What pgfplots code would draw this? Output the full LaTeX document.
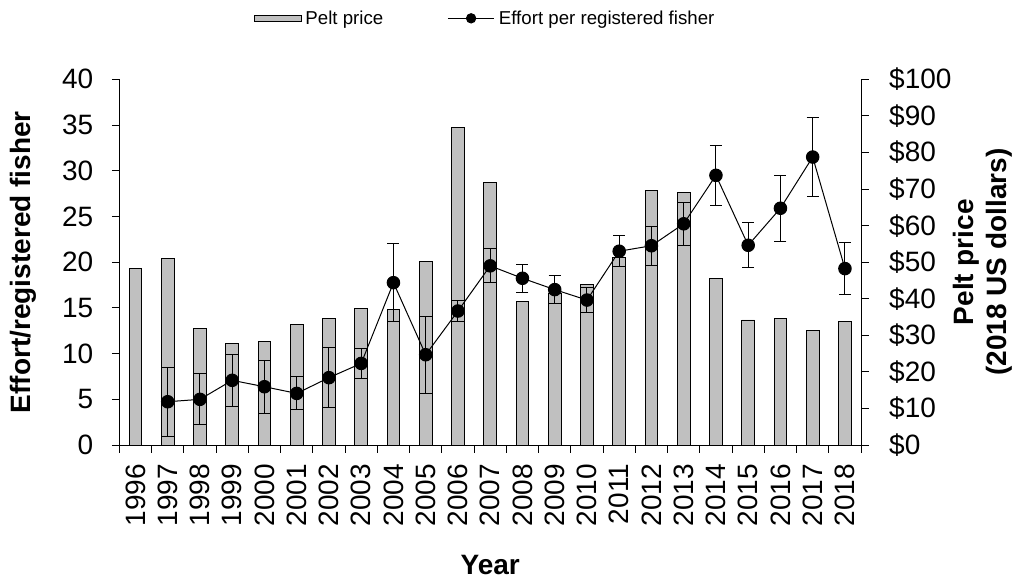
\documentclass[border=0pt]{standalone}
\usepackage{pgfplots}
\pgfplotsset{compat=1.18}
\usepackage{pgfplotstable}
\usepackage{fontspec}
\setmainfont{Liberation Sans}

\definecolor{barfill}{HTML}{C0C0C0}

% Pelt price per year (2018 US dollars)
\pgfplotstableread{
year price
1996 48.3
1997 51.0
1998 31.9
1999 27.9
2000 28.3
2001 33.0
2002 34.6
2003 37.4
2004 37.0
2005 50.2
2006 86.8
2007 71.8
2008 39.3
2009 41.5
2010 44.0
2011 51.4
2012 69.5
2013 69.1
2014 45.6
2015 34.2
2016 34.6
2017 31.4
2018 33.7
}\pricetable

% Effort per registered fisher with its error
\pgfplotstableread{
year effort err
1997 4.74 3.75
1998 5.00 2.80
1999 7.08 2.87
2000 6.38 2.90
2001 5.65 1.80
2002 7.37 3.30
2003 8.93 1.65
2004 17.76 4.30
2005 9.88 4.20
2006 14.66 1.10
2007 19.60 1.87
2008 18.24 1.55
2009 17.00 1.50
2010 15.86 1.40
2011 21.20 1.70
2012 21.80 2.15
2013 24.20 2.35
2014 29.50 3.25
2015 21.85 2.45
2016 25.90 3.60
2017 31.50 4.30
2018 19.30 2.80
}\efforttable

\pgfplotsset{
  common/.style={
    at={(0,0)}, anchor=south west,
    scale only axis, width=556.3pt, height=274.3pt,
    xmin=1995.5, xmax=2018.5,
    tick align=outside, major tick length=5.6pt,
    axis line style={-, line width=0.75pt},
    tick style={line width=0.75pt, black},
    /pgf/number format/assume math mode=true,
    ticklabel style={font=\fontsize{21}{25}\selectfont},
    label style={font=\fontsize{21}{24.75}\selectfont\bfseries},
  },
}

\begin{document}
\begin{tikzpicture}
\useasboundingbox (-89.5pt,-101.25pt) rectangle (672.5pt,333.8pt);

% bars: pelt price on the right-hand axis
\begin{axis}[
  common,
  ymin=0, ymax=100,
  axis y line*=right, axis x line*=bottom,
  ytick={0,10,...,100},
  yticklabels={\$0,\$10,\$20,\$30,\$40,\$50,\$60,\$70,\$80,\$90,\$100},
  yticklabel shift=12pt,
  xtick={1995.5,1996.5,1997.5,1998.5,1999.5,2000.5,2001.5,2002.5,2003.5,2004.5,2005.5,2006.5,2007.5,2008.5,2009.5,2010.5,2011.5,2012.5,2013.5,2014.5,2015.5,2016.5,2017.5,2018.5},
  x tick label as interval,
  xticklabels={1996,1997,1998,1999,2000,2001,2002,2003,2004,2005,2006,2007,2008,2009,2010,2011,2012,2013,2014,2015,2016,2017,2018},
  xticklabel style={rotate=90, anchor=east},
  xticklabel shift=5pt,
  xlabel={Year},
  x label style={at={(axis description cs:0.5,-0.328)}, anchor=center},
  ylabel={Pelt price\\(2018 US dollars)},
  y label style={at={(axis description cs:1.164,0.5)}, anchor=center, rotate=0, align=center},
]
\addplot[ybar, bar width=9.5pt, fill=barfill, draw=black, line width=0.6pt]
  table[x=year, y=price] {\pricetable};
\end{axis}

% line: effort per registered fisher on the left-hand axis
\begin{axis}[
  common,
  ymin=0, ymax=40,
  ytick={0,5,...,40},
  yticklabel shift=10.5pt,
  axis y line*=left, axis x line=none,
  ylabel={Effort/registered fisher},
  y label style={at={(axis description cs:-0.130,0.5)}, anchor=center},
  legend columns=2,
  legend style={
    at={(axis description cs:0.4937,1.1668)}, anchor=center,
    draw=none, fill=none,
    font=\fontsize{14}{16}\selectfont,
    /tikz/every odd column/.append style={column sep=1pt},
    /tikz/every even column/.append style={column sep=46pt},
  },
]
\addlegendimage{legend image code/.code={
  \draw[fill=barfill, draw=black, line width=0.6pt] (0pt,-2.25pt) rectangle (35pt,2.25pt);}}
\addlegendentry{Pelt price}

\addplot[black, line width=0.75pt, mark=*, mark size=4.7pt,
  mark options={fill=black},
  legend image code/.code={
    \draw[black, line width=0.75pt] (0pt,0pt) -- (35pt,0pt);
    \draw[black, fill=black, mark size=3.5pt] plot[mark=*] coordinates {(17.5pt,0pt)};},
  error bars/y dir=both, error bars/y explicit,
  error bars/error bar style={line width=0.75pt, black},
  error bars/error mark options={rotate=90, mark size=4.5pt, line width=0.75pt, black},
  ]
  table[x=year, y=effort, y error=err] {\efforttable};
\addlegendentry{Effort per registered fisher}
\end{axis}
\end{tikzpicture}
\end{document}
